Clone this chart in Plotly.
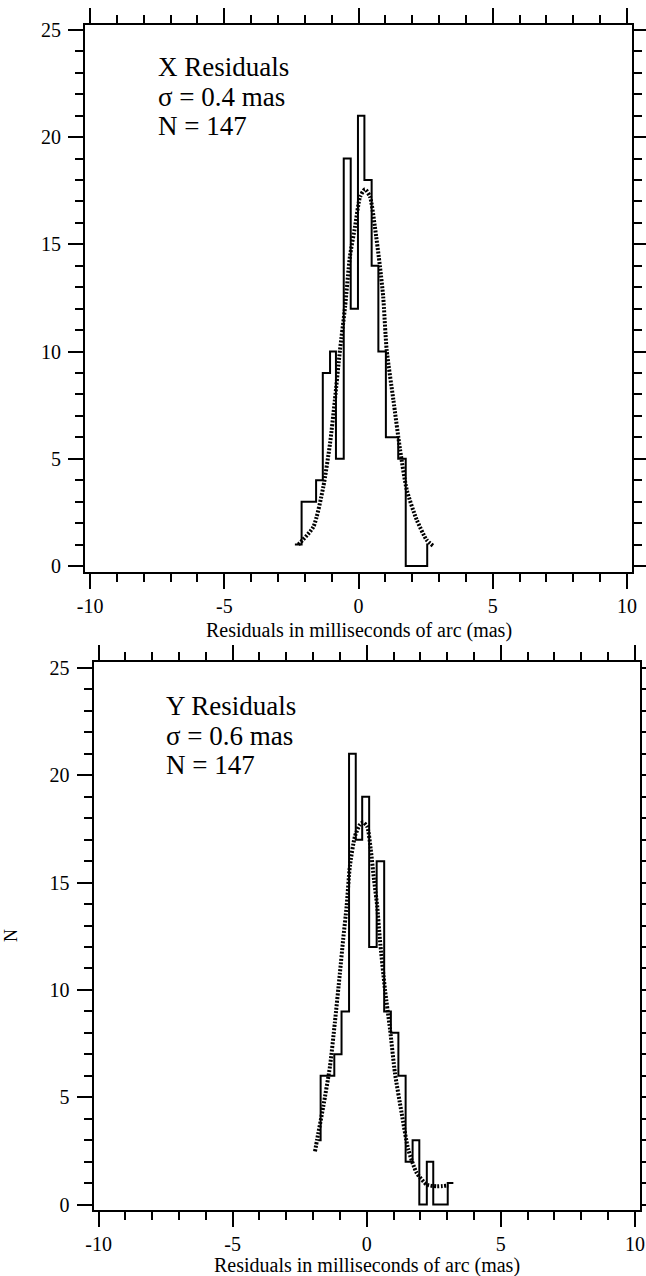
import plotly.graph_objects as go

# ---------------- data ----------------
# Top panel: X residuals histogram (step left edges, counts)
x_hist_edges = [-2.37, -2.12, -1.58, -1.33, -1.06, -0.84, -0.55, -0.29, -0.02, 0.22,
                0.49, 0.74, 1.02, 1.48, 1.76, 2.56, 2.60]
x_hist_counts = [1, 3, 4, 9, 10, 5, 19, 12, 21, 18, 14, 10, 6, 5, 0, 1, 1]

# Top panel: fitted curve (dotted)
x_fit_x = [-2.24, -1.68, -1.31, -1.06, -0.88, -0.69, -0.50, -0.32, -0.13, 0.06, 0.24,
           0.43, 0.61, 0.80, 0.92, 1.05, 1.30, 1.55, 1.80, 2.17, 2.54, 2.79]
x_fit_y = [1.00, 1.83, 3.70, 5.72, 7.74, 10.07, 12.09, 14.43, 15.82, 17.22, 17.57,
           17.22, 15.82, 13.96, 12.56, 10.07, 7.74, 5.41, 3.54, 2.15, 1.21, 0.93]

# Bottom panel: Y residuals histogram
y_hist_edges = [-1.80, -1.72, -1.21, -0.94, -0.66, -0.41, -0.17, 0.09, 0.37, 0.65,
                0.90, 1.18, 1.45, 1.71, 1.96, 2.24, 2.48, 3.02, 3.23]
y_hist_counts = [3, 6, 7, 9, 21, 17, 19, 12, 16, 9, 8, 6, 2, 3, 0, 2, 0, 1, 1]

# Bottom panel: fitted curve (dotted)
y_fit_x = [-1.93, -1.85, -1.62, -1.37, -1.19, -1.00, -0.88, -0.75, -0.63, -0.44, -0.25,
           -0.13, 0.02, 0.15, 0.27, 0.39, 0.49, 0.68, 0.87, 1.05, 1.30, 1.55, 1.86,
           2.24, 2.61, 3.04]
y_fit_y = [2.48, 3.03, 4.58, 6.45, 8.47, 10.80, 12.35, 13.90, 15.76, 17.16, 17.71,
           17.81, 17.60, 16.54, 15.14, 13.90, 12.35, 10.02, 8.15, 6.14, 4.27, 2.56, 1.48,
           0.93, 0.85, 0.89]

x_tick_vals = [-10, -5, 0, 5, 10]
x_tick_text = ["-10", "-5", "0", "5", "10"]
y_tick_vals = [0, 5, 10, 15, 20, 25]
y_tick_text = ["0", "5", "10", "15", "20", "25"]

top_labels = ["X Residuals", "σ = 0.4 mas", "N = 147"]
bottom_labels = ["Y Residuals", "σ = 0.6 mas", "N = 147"]
x_title = "Residuals in milliseconds of arc (mas)"
y_title = "N"

# ---------------- figure ----------------
W, H = 646, 1276
FONT = "Liberation Serif"


def px(x):
    return x / W


def py(y):
    return 1 - y / H


fig = go.Figure()

hist_line = dict(color="black", width=2, shape="hv")
fit_line = dict(color="black", width=4, dash="2px,1.5px", shape="spline", smoothing=0.6)

fig.add_trace(go.Scatter(x=x_hist_edges, y=x_hist_counts, mode="lines", line=hist_line,
                         xaxis="x", yaxis="y", showlegend=False))
fig.add_trace(go.Scatter(x=x_fit_x, y=x_fit_y, mode="lines", line=fit_line,
                         xaxis="x", yaxis="y", showlegend=False))
fig.add_trace(go.Scatter(x=y_hist_edges, y=y_hist_counts, mode="lines", line=hist_line,
                         xaxis="x2", yaxis="y2", showlegend=False))
fig.add_trace(go.Scatter(x=y_fit_x, y=y_fit_y, mode="lines", line=fit_line,
                         xaxis="x2", yaxis="y2", showlegend=False))

common = dict(
    showline=True, linecolor="black", linewidth=2, mirror="allticks",
    ticks="outside", ticklen=15, tickwidth=2, tickcolor="black",
    showgrid=False, zeroline=False, tickmode="array", automargin=False,
    tickfont=dict(family=FONT, size=20, color="black"),
    minor=dict(ticks="outside", ticklen=8, tickwidth=2, tickcolor="black",
               tickmode="linear", tick0=0, dtick=1, showgrid=False),
    fixedrange=True,
)

fig.update_layout(
    template="none",
    width=W, height=H,
    margin=dict(l=0, r=0, t=0, b=0, pad=0, autoexpand=False),
    paper_bgcolor="white", plot_bgcolor="white",
    showlegend=False,
    font=dict(family=FONT, color="black"),
    xaxis=dict(common, domain=[px(85), px(632)], range=[-10.19, 10.19], anchor="y",
               tickvals=x_tick_vals, ticktext=x_tick_text),
    yaxis=dict(common, domain=[py(572), py(25)], range=[-0.28, 25.23], anchor="x",
               tickvals=y_tick_vals, ticktext=y_tick_text, ticklabelstandoff=3),
    xaxis2=dict(common, domain=[px(93.5), px(640)], range=[-10.19, 10.19], anchor="y2",
                tickvals=x_tick_vals, ticktext=x_tick_text),
    yaxis2=dict(common, domain=[py(1209.5), py(662)], range=[-0.23, 25.28], anchor="x2",
                tickvals=y_tick_vals, ticktext=y_tick_text, ticklabelstandoff=3),
)

annotations = []
for i, t in enumerate(top_labels):
    annotations.append(dict(text=t, xref="paper", yref="paper", x=px(156), y=py(67 + 29.5 * i),
                            xanchor="left", yanchor="middle", showarrow=False,
                            font=dict(family=FONT, size=27, color="black")))
for i, t in enumerate(bottom_labels):
    annotations.append(dict(text=t, xref="paper", yref="paper", x=px(164), y=py(706 + 29.5 * i),
                            xanchor="left", yanchor="middle", showarrow=False,
                            font=dict(family=FONT, size=27, color="black")))
annotations.append(dict(text=x_title, xref="paper", yref="paper", x=px(358.5), y=py(631),
                        xanchor="center", yanchor="middle", showarrow=False,
                        font=dict(family=FONT, size=20, color="black")))
annotations.append(dict(text=x_title, xref="paper", yref="paper", x=px(367), y=py(1265),
                        xanchor="center", yanchor="middle", showarrow=False,
                        font=dict(family=FONT, size=20, color="black")))
annotations.append(dict(text=y_title, xref="paper", yref="paper", x=px(11), y=py(936),
                        xanchor="center", yanchor="middle", showarrow=False, textangle=-90,
                        font=dict(family=FONT, size=18, color="black")))
fig.update_layout(annotations=annotations)

fig.write_html("out.html", config={"displayModeBar": False},
               post_script="document.body.style.margin='0px';document.body.style.overflow='hidden';")
